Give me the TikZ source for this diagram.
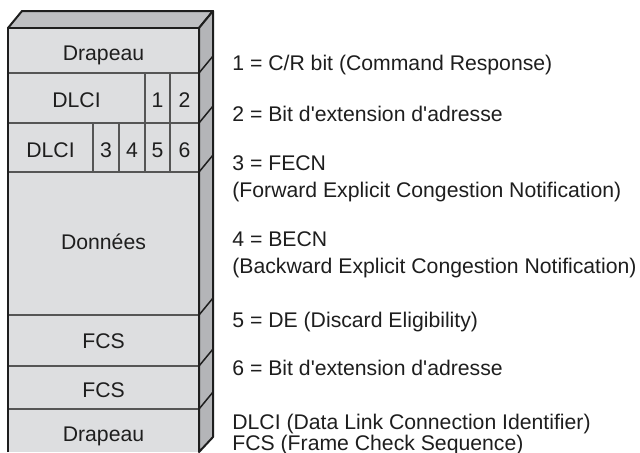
\documentclass[tikz,border=0pt]{standalone}
\usepackage{fontspec}
\setmainfont{Liberation Sans}[Ligatures=TeXOff]
\usepackage{tikz}
\usetikzlibrary{positioning}
\usepackage{xcolor}
\definecolor{frontgray}{RGB}{221, 222, 224}
\definecolor{topgray}{RGB}{190, 191, 194}
\definecolor{sidegray}{RGB}{180, 181, 184}
\definecolor{edgedark}{RGB}{30, 30, 30}
\definecolor{rulegray}{RGB}{85, 85, 85}
\tikzset{
  cell/.style={font=\fontsize{10.6}{12}\selectfont, text=edgedark, inner sep=0pt, anchor=base},
  legend/.style={font=\fontsize{10.6}{13.3}\selectfont, text=edgedark, inner sep=0pt,
    anchor=base west, align=left},
}

\begin{document}
\begin{tikzpicture}[x=0.5pt, y=-0.5pt]
  \useasboundingbox (0,0) rectangle (640,452);
  \fill[white] (0,0) rectangle (640,452);

  % face supérieure
  \filldraw[fill=topgray, draw=edgedark, line width=1pt, line join=round]
    (8,28) -- (22,11) -- (213,11) -- (199,28) -- cycle;

  % face latérale
  \filldraw[fill=sidegray, draw=edgedark, line width=1pt, line join=round]
    (199,28) -- (213,11) -- (213,437) -- (199,452) -- cycle;

  % face avant
  \fill[frontgray] (8,28) rectangle (199,452);

  % séparations des champs
  \foreach \y in {73,123,172,315,366,409} {
    \draw[rulegray, line width=0.75pt] (8,\y) -- (199,\y);
    \draw[edgedark, line width=0.75pt] (199,\y) -- (213,\y-17);
  }
  \draw[rulegray, line width=0.7pt] (145,73) -- (145,172);
  \draw[rulegray, line width=0.7pt] (170,73) -- (170,172);
  \draw[rulegray, line width=0.7pt] (93,123) -- (93,172);
  \draw[rulegray, line width=0.7pt] (119,123) -- (119,172);

  % contour avant
  \draw[edgedark, line width=1pt, line join=round] (8,452) -- (8,28) -- (199,28) -- (199,452);

  % champs de la trame
  \node[cell] (flagtop) at (103.5,60) {Drapeau};
  \node[cell] (dlcia) at (76.5,107) {DLCI};
  \node[cell] (bitone) at (157.5,107) {1};
  \node[cell] (bittwo) at (184.5,107) {2};
  \node[cell] (dlcib) at (50.5,157) {DLCI};
  \node[cell] (bitthree) at (106,157) {3};
  \node[cell] (bitfour) at (132,157) {4};
  \node[cell] (bitfive) at (157.5,157) {5};
  \node[cell] (bitsix) at (184.5,157) {6};
  \node[cell] (data) at (103.5,249) {Données};
  \node[cell] (fcsa) at (103.5,348) {FCS};
  \node[cell] (fcsb) at (103.5,397) {FCS};
  \node[cell] (flagbot) at (103.5,441) {Drapeau};

  % légende (ancrage sur la dernière ligne)
  \node[legend] (leg1) at (232,70) {1 = C/R bit (Command Response)};
  \node[legend] (leg2) at (232,121) {2 = Bit d'extension d'adresse};
  \node[legend] (leg3) at (232,197) {3 = FECN\\(Forward Explicit Congestion Notification)};
  \node[legend] (leg4) at (232,273) {4 = BECN\\(Backward Explicit Congestion Notification)};
  \node[legend] (leg5) at (232,327) {5 = DE (Discard Eligibility)};
  \node[legend] (leg6) at (232,375) {6 = Bit d'extension d'adresse};
  \node[legend] (legdlci) at (232,429) {DLCI (Data Link Connection Identifier)};
  \node[legend] (legfcs) at (232,450) {FCS (Frame Check Sequence)};
\end{tikzpicture}
\end{document}
